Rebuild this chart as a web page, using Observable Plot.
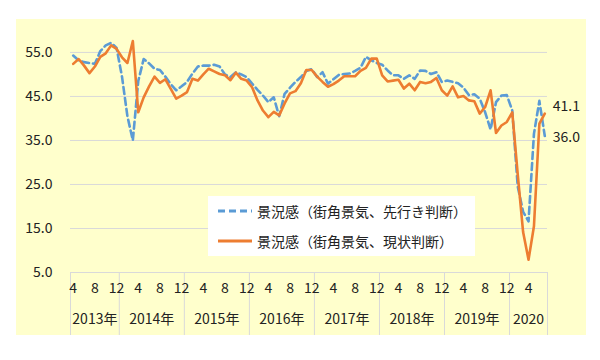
<!DOCTYPE html>
<html><head><meta charset="utf-8">
<script src="https://cdn.jsdelivr.net/npm/d3@7"></script>
<script src="https://cdn.jsdelivr.net/npm/@observablehq/plot@0.6"></script>
<style>
body{margin:0;background:#fff;font-family:"Noto Sans CJK JP",sans-serif;}
#wrap{position:relative;width:600px;height:360px;overflow:hidden;}
#bg{position:absolute;left:16px;top:19px;width:570px;height:316px;background:#FFFFCC;}
#chart{position:absolute;left:0;top:0;}
#legend{position:absolute;left:208px;top:196px;width:267px;height:60px;background:#fff;}
.item{position:absolute;left:10px;height:20px;display:flex;align-items:center;font-size:14px;color:#222;white-space:nowrap;}
.item svg{margin-right:5px;}
</style></head>
<body>
<div id="wrap"><div id="bg"></div><div id="chart"></div>
<div id="legend">
  <div class="item" style="top:5px"><svg width="34" height="6"><line x1="0" y1="3" x2="34" y2="3" stroke="#5B9BD5" stroke-width="3" stroke-dasharray="7,4"/></svg><span id="lg1"></span></div>
  <div class="item" style="top:35px"><svg width="34" height="6"><line x1="0" y1="3" x2="34" y2="3" stroke="#ED7D31" stroke-width="3"/></svg><span id="lg2"></span></div>
</div>
</div>
<script>
const startYear = 2013, startMonth = 4;
const seriesNames = ["景況感（街角景気、先行き判断）", "景況感（街角景気、現状判断）"];
// 先行き判断 (dashed blue), 2013/4 – 2020/7
const outlook = [
  54.3, 53.2, 52.8, 52.6, 52.4, 55.3, 56.6, 57.2, 56.0,
  49.5, 40.5, 35.0, 48.5, 53.5, 52.5, 51.3, 51.0, 49.5, 47.8, 46.4, 47.3,
  48.3, 50.2, 51.8, 52.0, 52.0, 52.2, 51.8, 50.0, 49.4, 50.5, 50.0, 49.4,
  47.9, 46.5, 45.2, 43.7, 44.8, 40.5, 45.6, 47.0, 48.3, 49.4, 50.8, 51.2,
  49.4, 50.5, 47.9, 48.9, 49.9, 50.1, 50.2, 50.8, 51.5, 54.0, 53.2, 52.6,
  52.2, 50.9, 49.8, 49.8, 49.0, 49.8, 49.0, 50.9, 50.8, 50.1, 50.5, 48.3,
  48.6, 48.3, 48.0, 47.0, 45.3, 45.5, 44.5, 41.4, 37.5, 43.7, 45.2, 45.3,
  41.8, 24.6, 18.8, 16.6, 36.5, 44.0, 36.0
];
// 現状判断 (solid orange)
const current = [
  52.4, 53.5, 52.0, 50.3, 51.8, 54.0, 54.8, 56.6, 55.8,
  53.9, 52.6, 57.6, 41.4, 44.8, 47.3, 49.5, 48.1, 48.9, 46.7, 44.5, 45.2,
  46.0, 49.0, 48.6, 50.0, 51.3, 50.7, 50.1, 49.8, 48.7, 50.4, 49.0, 48.6,
  47.1, 44.1, 41.8, 40.3, 41.5, 40.7, 43.4, 45.7, 46.2, 48.0, 51.0, 51.0,
  49.5, 48.3, 47.2, 47.8, 48.6, 49.6, 49.6, 49.6, 50.8, 51.5, 53.6, 53.6,
  49.8, 48.4, 48.6, 48.8, 46.8, 47.9, 46.4, 48.3, 48.0, 48.3, 49.2, 46.4,
  45.2, 47.3, 44.8, 45.1, 44.1, 43.9, 41.1, 42.6, 46.4, 36.7, 38.4, 39.2,
  41.4, 27.4, 14.2, 7.9, 15.5, 38.8, 41.1
];
const yearLabels = ["2013年","2014年","2015年","2016年","2017年","2018年","2019年","2020"];
const monthTickValues = [4, 8, 12];
const yTicks = [5, 15, 25, 35, 45, 55];

document.getElementById("lg1").textContent = seriesNames[0];
document.getElementById("lg2").textContent = seriesNames[1];

const n = current.length;
const rows = current.map((c, i) => {
  const m0 = startMonth - 1 + i;
  return {i, year: startYear + Math.floor(m0 / 12), month: (m0 % 12) + 1, current: c, outlook: outlook[i]};
});
const monthTicks = rows.filter(r => monthTickValues.includes(r.month)).map(r => ({i: r.i, label: String(r.month)}));
const boundaries = [-0.5, ...rows.filter(r => r.month === 1).map(r => r.i - 0.5), n - 0.5];
const yearTicks = yearLabels.map((label, k) => {
  const rs = rows.filter(r => r.year === startYear + k);
  return {c: (rs[0].i + rs[rs.length - 1].i) / 2, label};
});
const last = rows[n - 1];
const grid = "#d9d9d9";

const chart = Plot.plot({
  width: 600, height: 360,
  marginLeft: 70, marginRight: 53, marginTop: 22, marginBottom: 88,
  style: {background: "transparent", fontFamily: '"Noto Sans CJK JP", sans-serif', fontSize: "14px", color: "#222"},
  x: {domain: [-0.5, n - 0.5], axis: null},
  y: {domain: [5, 61.8], axis: null},
  marks: [
    Plot.ruleY(yTicks, {y: d => d, stroke: grid, strokeWidth: 1}),
    Plot.ruleX(boundaries, {x: d => d, stroke: grid, insetTop: 250, insetBottom: -63}),
    Plot.text(yTicks, {y: d => d, text: d => d.toFixed(1), frameAnchor: "left", textAnchor: "end", dx: -18}),
    Plot.text(monthTicks, {x: "i", text: "label", frameAnchor: "bottom", dy: 20}),
    Plot.text(yearTicks, {x: "c", text: "label", frameAnchor: "bottom", dy: 51}),
    Plot.line(rows, {x: "i", y: "outlook", stroke: "#5B9BD5", strokeWidth: 2.6, strokeDasharray: "7,4"}),
    Plot.line(rows, {x: "i", y: "current", stroke: "#ED7D31", strokeWidth: 2.6}),
    Plot.text([last], {x: "i", y: "current", text: d => d.current.toFixed(1), textAnchor: "start", dx: 8, dy: -7}),
    Plot.text([last], {x: "i", y: "outlook", text: d => d.outlook.toFixed(1), textAnchor: "start", dx: 8, dy: 1})
  ]
});
document.getElementById("chart").appendChild(chart);
</script>
</body></html>
